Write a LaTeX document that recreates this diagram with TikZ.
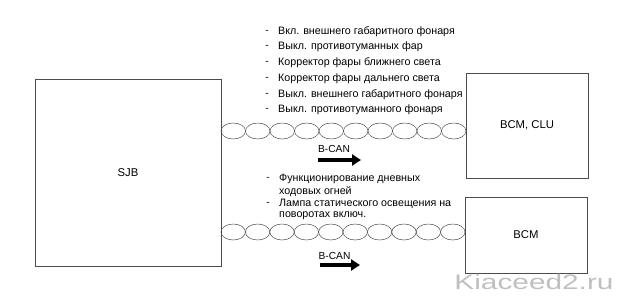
\documentclass[tikz,border=0pt]{standalone}
\usepackage{fontspec}
\setmainfont{Liberation Sans}
\usetikzlibrary{arrows.meta}
\begin{document}
\begin{tikzpicture}[x=1pt,y=-1pt,
  box/.style={draw=black!70, line width=0.6pt, inner sep=0pt, font=\fontsize{11.3}{13}\selectfont},
  item/.style={anchor=west, inner sep=0pt, font=\fontsize{10.7}{12}\selectfont},
  dashmark/.style={anchor=center, inner sep=0pt, font=\fontsize{10}{11}\selectfont},
  canlabel/.style={inner sep=0pt, font=\fontsize{10.2}{11}\selectfont},
  link/.style={draw=black!70, line width=0.5pt},
  bigarrow/.style={line width=4pt, -{Triangle[length=9pt,width=11pt]}}]
\useasboundingbox (0,0) rectangle (622,301);
% boxes
\node[box, minimum width=186pt, minimum height=187pt] (sjb) at (128,172.5) {SJB};
\node[box, minimum width=122pt, minimum height=105pt] (bcmclu) at (527,125.5) {BCM, CLU};
\node[box, minimum width=122pt, minimum height=76pt] (bcm) at (526,235) {BCM};
% chains
\foreach \i in {0,...,9}
  \draw[link] (221+12.25+24.5*\i,131) ellipse [x radius=12.25, y radius=8];
\foreach \i in {0,...,9}
  \draw[link] (221+12.2+24.4*\i,232) ellipse [x radius=12.2, y radius=8];
% upper list
\foreach \y/\t [count=\k] in {32/Вкл. внешнего габаритного фонаря,
  47/Выкл. противотуманных фар,
  63/Корректор фары ближнего света,
  79/Корректор фары дальнего света,
  95/Выкл. внешнего габаритного фонаря,
  110/Выкл. противотуманного фонаря}{
  \node[dashmark] (d\k) at (267,\y) {-};
  \node[item] (t\k) at (278,\y) {\t};
}
% lower list
\node[dashmark] (e1) at (268,179) {-};
\node[item] (u1) at (279,179) {Функционирование дневных};
\node[item] (u2) at (279,191.5) {ходовых огней};
\node[dashmark] (e3) at (268,204) {-};
\node[item] (u3) at (279,204) {Лампа статического освещения на};
\node[item] (u4) at (279,216) {поворотах включ.};
% B-CAN labels and arrows
\node[canlabel] (can1) at (334,149) {B-CAN};
\coordinate (a1s) at (318,160);
\coordinate (a1e) at (361,160);
\draw[bigarrow] (a1s) -- (a1e);
\node[canlabel] (can2) at (334.5,256) {B-CAN};
\coordinate (a2s) at (320,265);
\coordinate (a2e) at (360,265);
\draw[bigarrow] (a2s) -- (a2e);
% watermark
\node[inner sep=0pt, text=black!25, font=\fontsize{21}{22}\selectfont, xscale=1.42, anchor=base] (wm) at (534,289) {Kiaceed2.ru};
\end{tikzpicture}
\end{document}
